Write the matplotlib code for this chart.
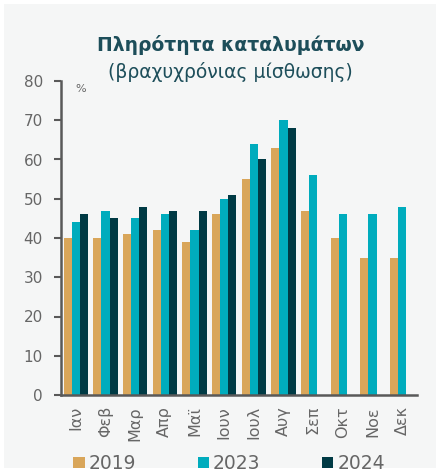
import numpy as np
import matplotlib.pyplot as plt
from matplotlib.patches import Rectangle

months = ['Ιαν', 'Φεβ', 'Μαρ', 'Απρ', 'Μαϊ', 'Ιουν', 'Ιουλ', 'Αυγ', 'Σεπ', 'Οκτ', 'Νοε', 'Δεκ']
occ_2019 = [40, 40, 41, 42, 39, 46, 55, 63, 47, 40, 35, 35]
occ_2023 = [44, 47, 45, 46, 42, 50, 64, 70, 56, 46, 46, 48]
occ_2024 = [46, 45, 48, 47, 47, 51, 60, 68, np.nan, np.nan, np.nan, np.nan]

colors = {'2019': '#d9a65a', '2023': '#00acbd', '2024': '#003a44'}
grey = '#666666'
bg = '#f5f6f6'

fig = plt.figure(figsize=(4.39, 4.74), dpi=100, facecolor='white')
fig.patches.append(Rectangle((4 / 439, 6 / 474), 432 / 439, 464 / 474,
                             transform=fig.transFigure, facecolor=bg,
                             edgecolor='none', zorder=-5))

ax = fig.add_axes([61 / 439, 79 / 474, 356 / 439, 314 / 474])
ax.set_facecolor(bg)

x = np.arange(len(months))
w = 0.27
ax.bar(x - w, occ_2019, w, color=colors['2019'], label='2019')
ax.bar(x, occ_2023, w, color=colors['2023'], label='2023')
ax.bar(x + w, occ_2024, w, color=colors['2024'], label='2024')

ax.set_xlim(-0.5, 11.5)
ax.set_ylim(0, 80)
ax.set_yticks(range(0, 81, 10))
ax.set_xticks(x)
ax.set_xticklabels(months, rotation=90)

for s in ['top', 'right']:
    ax.spines[s].set_visible(False)
for s in ['left', 'bottom']:
    ax.spines[s].set_color('#595959')
    ax.spines[s].set_linewidth(1.8)

ax.tick_params(axis='y', length=5, width=1.5, color='#595959', pad=8,
               labelsize=11, labelcolor=grey)
ax.tick_params(axis='x', length=0, pad=8, labelsize=11.5, labelcolor=grey)

ax.text(0.04, 0.975, '%', transform=ax.transAxes, fontsize=8, color=grey,
        va='center', ha='left')

fig.text(0.525, 0.905, 'Πληρότητα καταλυμάτων', ha='center', va='center',
         fontsize=13.5, fontweight='bold', color='#1d4e5a')
fig.text(0.525, 0.848, '(βραχυχρόνιας μίσθωσης)', ha='center', va='center',
         fontsize=13.5, color='#1d4e5a')

leg = fig.legend(loc='center', bbox_to_anchor=(0.522, 0.022), ncol=3,
                 frameon=False, fontsize=13.5, handlelength=0.6, handleheight=0.6,
                 handletextpad=0.2, columnspacing=3.3)
for t in leg.get_texts():
    t.set_color(grey)

fig.savefig('out.png', dpi=100, facecolor='white')
